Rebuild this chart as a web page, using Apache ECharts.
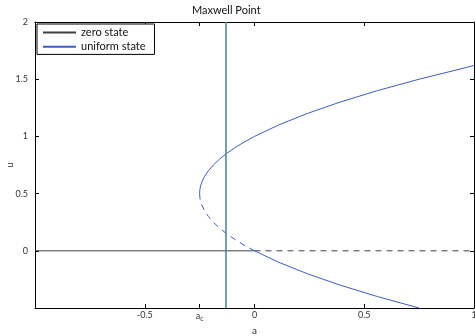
<!DOCTYPE html>
<html><head><meta charset="utf-8">
<script src="https://cdn.jsdelivr.net/npm/echarts@6/dist/echarts.min.js"></script>
<style>html,body{margin:0;padding:0;background:#fff}#c{width:475px;height:336px}</style>
</head><body><div id="c"></div>
<script>
// Data
const xTicks = [-1, -0.5, -0.25, 0, 0.5, 1];
const xTickLabels = ['', '-0.5', 'a_c', '0', '0.5', '1'];
const yTicks = [-0.5, 0, 0.5, 1, 1.5, 2];
// zero state: u = 0
const zeroStableA = [-1, 0];
const zeroStableU = [0, 0];
const zeroUnstableA = [0, 1];
const zeroUnstableU = [0, 0];
// uniform state upper stable branch
const upperU = [0.5, 0.525, 0.55, 0.575, 0.6, 0.65, 0.7, 0.75, 0.8, 0.85, 0.9, 0.95, 1.0, 1.1, 1.2, 1.3, 1.4, 1.5, 1.6, 1.62];
const upperA = [-0.25, -0.2494, -0.2475, -0.2444, -0.24, -0.2275, -0.21, -0.1875, -0.16, -0.1275, -0.09, -0.0475, 0, 0.11, 0.24, 0.39, 0.56, 0.75, 0.96, 1.0];
// uniform state unstable (dashed) branch
const midU = [0.5, 0.475, 0.45, 0.425, 0.4, 0.35, 0.3, 0.25, 0.2, 0.15, 0.1, 0.05, 0];
const midA = [-0.25, -0.2494, -0.2475, -0.2444, -0.24, -0.2275, -0.21, -0.1875, -0.16, -0.1275, -0.09, -0.0475, 0];
// uniform state lower stable branch
const lowerU = [0, -0.1, -0.2, -0.3, -0.4, -0.5];
const lowerA = [0, 0.11, 0.24, 0.39, 0.56, 0.75];
// Maxwell point
const maxwellA = [-0.13];

const zip = (xs, ys) => xs.map((x, i) => [x, ys[i]]);
const FONT = 'Lato';
const blue = '#3d5cc6';
const dark = '#404040';
const teal = '#4f8b96';

const chart = echarts.init(document.getElementById('c'), null, {renderer: 'canvas'});
const tickStyle = {show: true, inside: true, length: 4, lineStyle: {color: '#000', width: 1}};
chart.setOption({
  animation: false,
  title: {text: 'Maxwell Point', left: 192, top: 5, padding: 0,
    textStyle: {fontFamily: FONT, fontSize: 11, fontWeight: 'normal', color: '#111'}},
  legend: {
    data: ['zero state', 'uniform state'],
    orient: 'vertical', left: 37, top: 24, padding: [3, 9, 2, 5],
    itemWidth: 33, itemHeight: 14, itemGap: 3,
    itemStyle: {opacity: 0},
    borderColor: '#000', borderWidth: 1, backgroundColor: '#fff',
    textStyle: {fontFamily: FONT, fontSize: 11, color: '#111'}
  },
  grid: {left: 35, right: 1, top: 22, bottom: 28, containLabel: false, outerBoundsMode: 'none'},
  xAxis: [{
    type: 'value', min: -1, max: 1, position: 'bottom',
    name: 'a', nameLocation: 'middle', nameGap: 18, nameMoveOverlap: false,
    nameTextStyle: {fontFamily: FONT, fontSize: 10, color: '#333'},
    axisLine: {show: true, onZero: false, lineStyle: {color: '#000'}},
    axisTick: Object.assign({customValues: xTicks}, tickStyle),
    axisLabel: {customValues: xTicks, margin: 3, fontFamily: FONT, fontSize: 9, color: '#333',
      formatter: v => { const i = xTicks.indexOf(v); const s = i >= 0 ? xTickLabels[i] : '';
        return s === 'a_c' ? '{a|a}{c|c}' : s; },
      rich: {a: {fontFamily: FONT, fontSize: 9, color: '#333'}, c: {fontFamily: FONT, fontSize: 7, color: '#333', verticalAlign: 'bottom', padding: [4, 0, 0, 0]}}},
    splitLine: {show: false}
  }, {
    type: 'value', min: -1, max: 1, position: 'top',
    axisLine: {show: true, onZero: false, lineStyle: {color: '#000'}},
    axisTick: Object.assign({customValues: xTicks}, tickStyle),
    axisLabel: {show: false}, splitLine: {show: false}
  }],
  yAxis: [{
    type: 'value', min: -0.5, max: 2, interval: 0.5, position: 'left',
    name: 'u', nameLocation: 'middle', nameGap: 20, nameMoveOverlap: false,
    nameTextStyle: {fontFamily: FONT, fontSize: 10, color: '#333'},
    axisLine: {show: true, onZero: false, lineStyle: {color: '#000'}},
    axisTick: tickStyle,
    axisLabel: {showMinLabel: false, margin: 7, fontFamily: FONT, fontSize: 9, color: '#333'},
    splitLine: {show: false}
  }, {
    type: 'value', min: -0.5, max: 2, interval: 0.5, position: 'right',
    axisLine: {show: true, onZero: false, lineStyle: {color: '#000'}},
    axisTick: tickStyle, axisLabel: {show: false}, splitLine: {show: false}
  }],
  series: [
    {name: 'zero state', type: 'line', data: zip(zeroStableA, zeroStableU), symbol: 'none', clip: true,
      lineStyle: {color: dark, width: 1}, itemStyle: {color: dark}},
    {name: 'zero unstable', type: 'line', data: zip(zeroUnstableA, zeroUnstableU), symbol: 'none', clip: true,
      lineStyle: {color: dark, width: 1, type: [6, 5]}, itemStyle: {color: dark}},
    {name: 'uniform state', type: 'line', data: zip(upperA, upperU), symbol: 'none', clip: true,
      lineStyle: {color: blue, width: 1}, itemStyle: {color: blue}},
    {name: 'uniform unstable', type: 'line', data: zip(midA, midU), symbol: 'none', clip: true,
      lineStyle: {color: blue, width: 1, type: [6, 5]}, itemStyle: {color: blue}},
    {name: 'uniform lower', type: 'line', data: zip(lowerA, lowerU), symbol: 'none', clip: true,
      lineStyle: {color: blue, width: 1}, itemStyle: {color: blue}},
    {name: 'maxwell', type: 'line', data: [[maxwellA[0], -0.5], [maxwellA[0], 2]], symbol: 'none', clip: true,
      lineStyle: {color: teal, width: 1.6}, itemStyle: {color: teal}, z: 5}
  ]
});
</script></body></html>
